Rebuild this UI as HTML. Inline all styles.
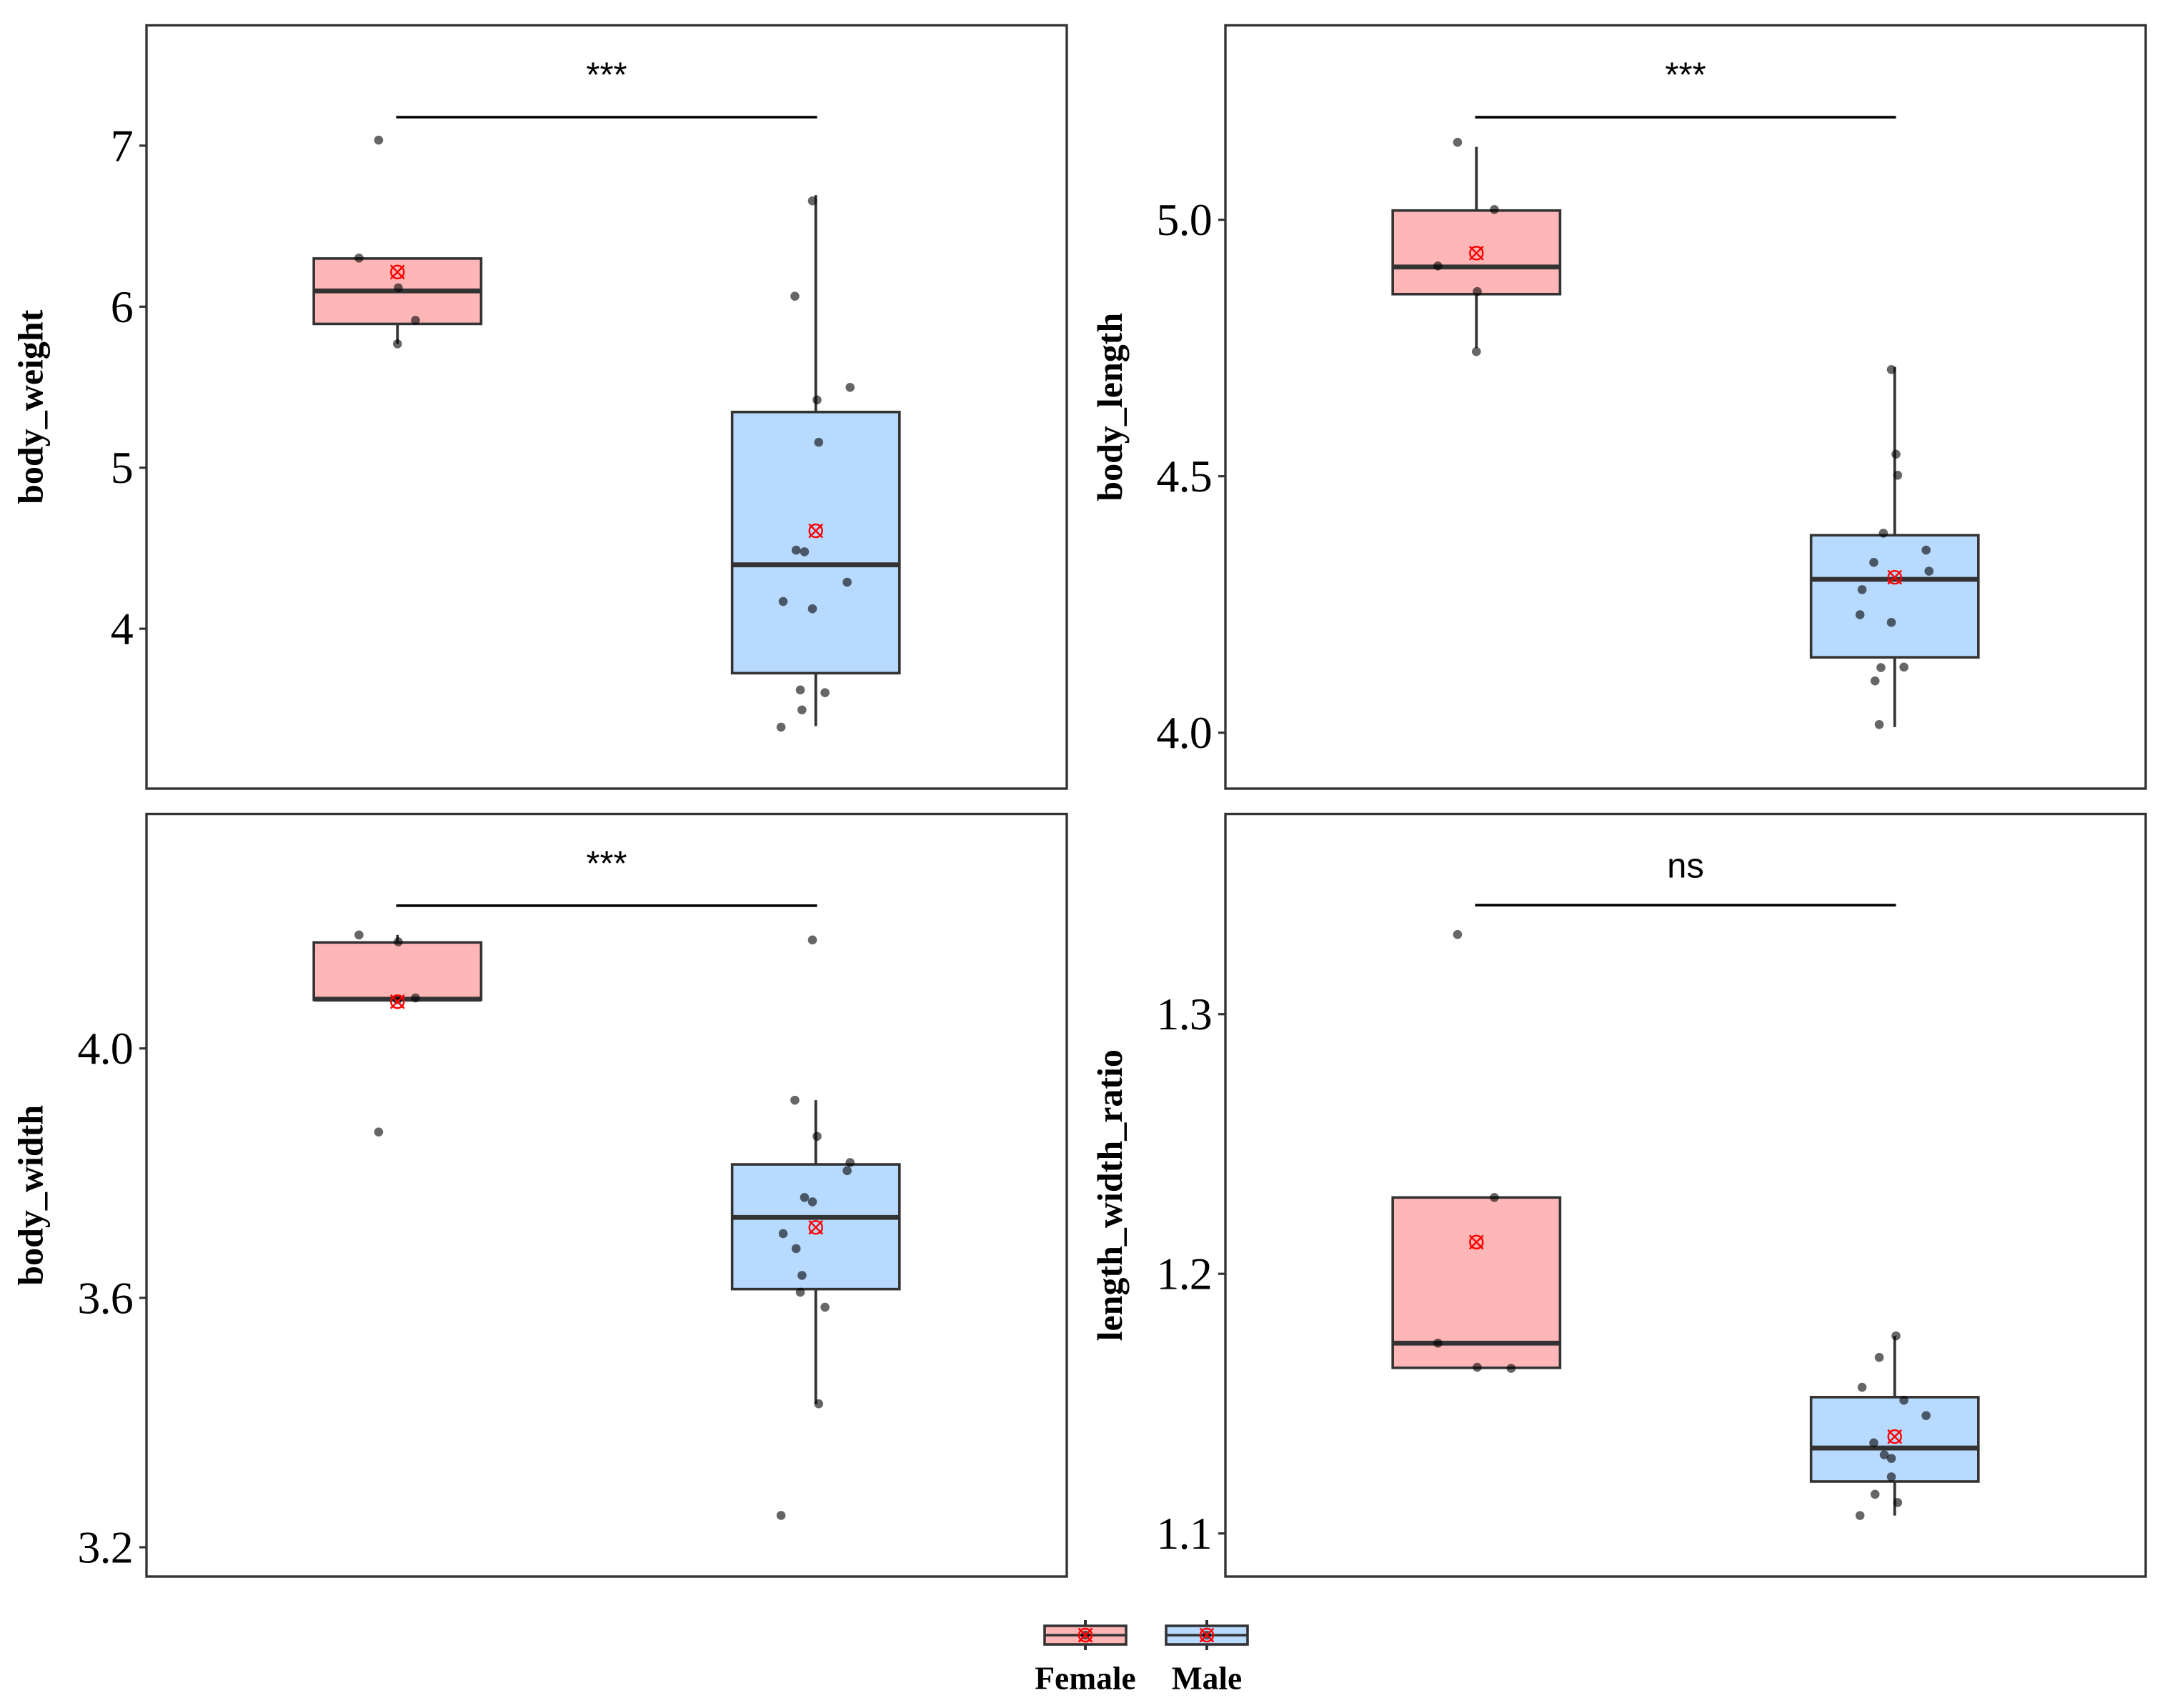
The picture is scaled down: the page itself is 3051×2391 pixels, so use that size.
<!DOCTYPE html>
<html lang="en">
<head>
<meta charset="utf-8">
<title>Body measurements by sex</title>
<style>
  html, body { margin: 0; padding: 0; background: #fff; }
  svg { display: block; }
  .tick-label { font-family: "Liberation Serif", serif; font-size: 64px; letter-spacing: -0.8px; fill: #000; text-anchor: end; }
  .axis-title { font-family: "Liberation Serif", serif; font-size: 50px; font-weight: bold; fill: #000; text-anchor: middle; }
  .sig-label { font-family: "Liberation Sans", sans-serif; font-size: 49px; fill: #000; text-anchor: middle; }
  .legend-label { font-family: "Liberation Serif", serif; font-size: 45.5px; font-weight: bold; fill: #000; text-anchor: middle; }
</style>
</head>
<body>
<svg id="chart" xmlns="http://www.w3.org/2000/svg" width="3051" height="2391" viewBox="0 0 3051 2391">
  <rect x="0" y="0" width="3051" height="2391" fill="#ffffff"/>
</svg>
<script>
// ---- shared data ----
const categories = ['Female', 'Male'];
const femaleJitter = [-0.092, -0.045, 0, 0.002, 0.043];
const maleJitter = [-0.083, -0.078, -0.05, -0.047, -0.037, -0.033, -0.027, -0.008, -0.008, 0.003, 0.007, 0.022, 0.075, 0.082];
const ratioFemaleJitter = [-0.092, -0.045, 0.002, 0.043, 0.083];
const ratioMaleJitter = [0.003, -0.037, -0.078, 0.022, 0.075, -0.05, -0.025, -0.008, -0.008, -0.047, 0.007, -0.083];

// ---- body_weight ----
const weightDomain = [3.007, 7.747];
const weightTicks = [4, 5, 6, 7];
const weightTickLabels = ['4', '5', '6', '7'];
const weightFemale = [6.302, 7.034, 5.769, 6.117, 5.915];
const weightMale = [3.389, 4.169, 6.065, 4.488, 3.62, 3.496, 4.478, 6.657, 4.124, 5.421, 5.158, 3.603, 4.289, 5.499];
// whisker low, q1, median, q3, whisker high
const weightFemaleBox = [5.769, 5.893, 6.098, 6.299, 6.299];
const weightMaleBox = [3.395, 3.724, 4.397, 5.346, 6.693];
const weightMeans = [6.215, 4.608];
const weightBracket = 7.177;

// ---- body_length ----
const lengthDomain = [3.891, 5.379];
const lengthTicks = [4.0, 4.5, 5.0];
const lengthTickLabels = ['4.0', '4.5', '5.0'];
const lengthFemale = [4.91, 5.151, 4.743, 4.86, 5.02];
const lengthMale = [4.23, 4.279, 4.332, 4.101, 4.016, 4.127, 4.389, 4.708, 4.215, 4.543, 4.502, 4.128, 4.356, 4.315];
const lengthFemaleBox = [4.75, 4.855, 4.908, 5.018, 5.142];
const lengthMaleBox = [4.011, 4.147, 4.299, 4.385, 4.713];
const lengthMeans = [4.935, 4.303];
const lengthBracket = 5.2;

// ---- body_width ----
const widthDomain = [3.153, 4.376];
const widthTicks = [3.2, 3.6, 4.0];
const widthTickLabels = ['3.2', '3.6', '4.0'];
const widthFemale = [4.182, 3.866, 4.078, 4.171, 4.081];
const widthMale = [3.251, 3.703, 3.917, 3.679, 3.609, 3.636, 3.761, 4.174, 3.754, 3.859, 3.43, 3.585, 3.804, 3.817];
const widthFemaleBox = [4.078, 4.078, 4.079, 4.17, 4.182];
const widthMaleBox = [3.43, 3.614, 3.729, 3.814, 3.917];
const widthMeans = [4.075, 3.713];
const widthBracket = 4.229;

// ---- length_width_ratio ----
const ratioDomain = [1.0834, 1.3771];
const ratioTicks = [1.1, 1.2, 1.3];
const ratioTickLabels = ['1.1', '1.2', '1.3'];
const ratioFemale = [1.1733, 1.3307, 1.164, 1.2294, 1.1636];
const ratioMale = [1.1761, 1.1678, 1.1563, 1.1513, 1.1454, 1.1349, 1.1303, 1.1289, 1.1218, 1.1151, 1.1119, 1.1069];
const ratioFemaleBox = [1.1638, 1.1638, 1.1733, 1.2294, 1.2294];
const ratioMaleBox = [1.1069, 1.12, 1.1329, 1.1525, 1.1761];
const ratioMeans = [1.2122, 1.1373];
const ratioBracket = 1.342;

const panels = [
  { id: 'body-weight', title: 'body_weight', left: 205, right: 1493, top: 35.5, bottom: 1104, titleX: 59.5, domain: weightDomain, ticks: weightTicks, tickLabels: weightTickLabels, points: [weightFemale, weightMale], jitter: [femaleJitter, maleJitter], boxes: [weightFemaleBox, weightMaleBox], means: weightMeans, bracket: weightBracket, sig: '***', sigOffset: 42.5 },
  { id: 'body-length', title: 'body_length', left: 1715, right: 3003, top: 35.5, bottom: 1104, titleX: 1570, domain: lengthDomain, ticks: lengthTicks, tickLabels: lengthTickLabels, points: [lengthFemale, lengthMale], jitter: [femaleJitter, maleJitter], boxes: [lengthFemaleBox, lengthMaleBox], means: lengthMeans, bracket: lengthBracket, sig: '***', sigOffset: 42.5 },
  { id: 'body-width', title: 'body_width', left: 205, right: 1493, top: 1139.5, bottom: 2207, titleX: 59.5, domain: widthDomain, ticks: widthTicks, tickLabels: widthTickLabels, points: [widthFemale, widthMale], jitter: [femaleJitter, maleJitter], boxes: [widthFemaleBox, widthMaleBox], means: widthMeans, bracket: widthBracket, sig: '***', sigOffset: 42.5 },
  { id: 'length-width-ratio', title: 'length_width_ratio', left: 1715, right: 3003, top: 1139.5, bottom: 2207, titleX: 1570, domain: ratioDomain, ticks: ratioTicks, tickLabels: ratioTickLabels, points: [ratioFemale, ratioMale], jitter: [ratioFemaleJitter, ratioMaleJitter], boxes: [ratioFemaleBox, ratioMaleBox], means: ratioMeans, bracket: ratioBracket, sig: 'ns', sigOffset: 38.7 }
];

const fills = ['#ffb6b6', '#b8daff'];
const ink = '#333333';
const svg = document.getElementById('chart');
const NS = 'http://www.w3.org/2000/svg';

function make(tag, parent) {
  const el = document.createElementNS(NS, tag);
  parent.appendChild(el);
  return el;
}
function line(parent, x1, y1, x2, y2, color, width) {
  const el = make('line', parent);
  el.setAttribute('x1', x1);
  el.setAttribute('y1', y1);
  el.setAttribute('x2', x2);
  el.setAttribute('y2', y2);
  el.setAttribute('stroke', color);
  el.setAttribute('stroke-width', width);
  return el;
}
function meanMarker(parent, cx, cy) {
  const g = make('g', parent);
  g.setAttribute('fill', 'none');
  g.setAttribute('stroke', '#ff0000');
  g.setAttribute('stroke-width', '2.4');
  const c = make('circle', g);
  c.setAttribute('cx', cx);
  c.setAttribute('cy', cy);
  c.setAttribute('r', 9);
  const a = make('line', g);
  a.setAttribute('x1', cx - 9.5);
  a.setAttribute('y1', cy - 9.5);
  a.setAttribute('x2', cx + 9.5);
  a.setAttribute('y2', cy + 9.5);
  const b = make('line', g);
  b.setAttribute('x1', cx - 9.5);
  b.setAttribute('y1', cy + 9.5);
  b.setAttribute('x2', cx + 9.5);
  b.setAttribute('y2', cy - 9.5);
  return g;
}

function drawPanel(p) {
  const group = make('g', svg);
  
  

  const unit = (p.right - p.left) / 2.2;
  const xScale = (i, j) => p.left + (0.6 + i + j) * unit;
  const yScale = v => p.bottom - (v - p.domain[0]) / (p.domain[1] - p.domain[0]) * (p.bottom - p.top);

  // y axis ticks and labels
  p.ticks.forEach((t, i) => {
    const tick = line(group, p.left - 10, yScale(t), p.left, yScale(t), ink, 3.2);
    
    
    const label = make('text', group);
    label.setAttribute('class', 'tick-label');
    label.setAttribute('x', p.left - 19);
    label.setAttribute('y', yScale(t) + 21.5);
    label.textContent = p.tickLabels[i];
    
    
  });

  // y axis title
  const cy = (p.top + p.bottom) / 2;
  const title = make('text', group);
  title.setAttribute('class', 'axis-title');
  title.setAttribute('transform', 'translate(' + p.titleX + ' ' + cy + ') rotate(-90)');
  title.textContent = p.title;
  
  

  // boxes
  categories.forEach((cat, i) => {
    const s = p.boxes[i];
    const cx = xScale(i, 0);
    const half = 0.2 * unit;
    const wLow = line(group, cx, yScale(s[1]), cx, yScale(s[0]), ink, 3.8);
    
    
    const wHigh = line(group, cx, yScale(s[3]), cx, yScale(s[4]), ink, 3.8);
    
    
    const box = make('rect', group);
    box.setAttribute('x', cx - half);
    box.setAttribute('y', yScale(s[3]));
    box.setAttribute('width', half * 2);
    box.setAttribute('height', yScale(s[1]) - yScale(s[3]));
    box.setAttribute('fill', fills[i]);
    box.setAttribute('stroke', ink);
    box.setAttribute('stroke-width', 3.6);
    
    
    const med = line(group, cx - half, yScale(s[2]), cx + half, yScale(s[2]), ink, 6.8);
    
    
  });

  // jittered points
  categories.forEach((cat, i) => {
    p.points[i].forEach((v, k) => {
      const dot = make('circle', group);
      dot.setAttribute('cx', xScale(i, p.jitter[i][k]));
      dot.setAttribute('cy', yScale(v));
      dot.setAttribute('r', 6.3);
      dot.setAttribute('fill', '#000000');
      dot.setAttribute('fill-opacity', '0.6');
      
      
    });
  });

  // means
  categories.forEach((cat, i) => {
    const m = meanMarker(group, xScale(i, 0), yScale(p.means[i]));
    
    
  });

  // significance bracket
  const by = yScale(p.bracket);
  const bracket = line(group, xScale(0, 0), by, xScale(1, 0), by, '#000000', 3.6);
  bracket.setAttribute('stroke-linecap', 'square');
  
  
  const sig = make('text', group);
  sig.setAttribute('class', 'sig-label');
  sig.setAttribute('x', xScale(0.5, 0));
  sig.setAttribute('y', by - p.sigOffset);
  sig.textContent = p.sig;
  
  

  // panel frame
  const frame = make('rect', group);
  frame.setAttribute('x', p.left);
  frame.setAttribute('y', p.top);
  frame.setAttribute('width', p.right - p.left);
  frame.setAttribute('height', p.bottom - p.top);
  frame.setAttribute('fill', 'none');
  frame.setAttribute('stroke', ink);
  frame.setAttribute('stroke-width', 3.4);
  
  
}

panels.forEach(drawPanel);

// ---- legend ----
const legendGroup = make('g', svg);


const legendCenters = [1519, 1689];
categories.forEach((cat, i) => {
  const cx = legendCenters[i];
  const entry = make('g', legendGroup);
  
  
  line(entry, cx, 2268, cx, 2310, ink, 4);
  const key = make('rect', entry);
  key.setAttribute('x', cx - 57);
  key.setAttribute('y', 2276);
  key.setAttribute('width', 114);
  key.setAttribute('height', 26);
  key.setAttribute('fill', fills[i]);
  key.setAttribute('stroke', ink);
  key.setAttribute('stroke-width', 3.6);
  line(entry, cx - 57, 2289, cx + 57, 2289, ink, 3.4);
  const dot = make('circle', entry);
  dot.setAttribute('cx', cx);
  dot.setAttribute('cy', 2289);
  dot.setAttribute('r', 6.3);
  dot.setAttribute('fill', '#000000');
  dot.setAttribute('fill-opacity', '0.6');
  meanMarker(entry, cx, 2289);
  const label = make('text', entry);
  label.setAttribute('class', 'legend-label');
  label.setAttribute('x', cx);
  label.setAttribute('y', 2364.5);
  label.textContent = cat;
  
  
});
</script>
</body>
</html>
